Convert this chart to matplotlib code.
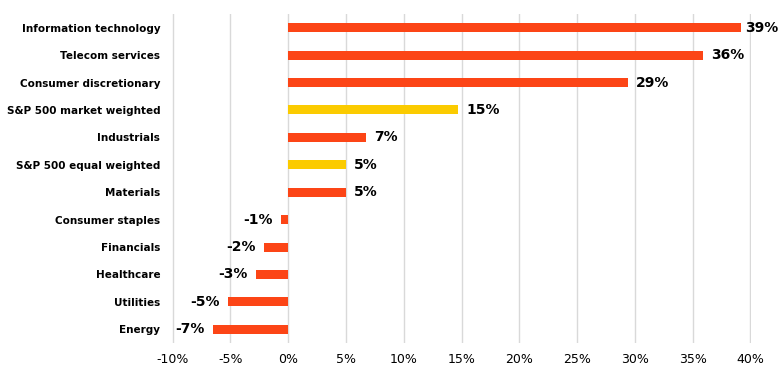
import matplotlib
matplotlib.use('Agg')
import matplotlib.pyplot as plt
from matplotlib.ticker import FuncFormatter

# sector returns, top to bottom as in the chart
sectors = ['Information technology', 'Telecom services', 'Consumer discretionary',
           'S&P 500 market weighted', 'Industrials', 'S&P 500 equal weighted',
           'Materials', 'Consumer staples', 'Financials', 'Healthcare',
           'Utilities', 'Energy']
values = [39.2, 35.9, 29.4, 14.7, 6.7, 5.0, 5.0, -0.6, -2.1, -2.8, -5.2, -6.5]
labels = ['39%', '36%', '29%', '15%', '7%', '5%', '5%', '-1%', '-2%', '-3%', '-5%', '-7%']
is_index = [False, False, False, True, False, True, False, False, False, False, False, False]

ORANGE = '#FC4516'
YELLOW = '#FBCB00'

plt.rcParams['font.family'] = ['DejaVu Sans']

fig = plt.figure(figsize=(7.8, 3.74), dpi=100)
ax = fig.add_axes([172 / 780, 31 / 374, (751 - 172) / 780, (343 - 14) / 374])

ypos = list(range(len(sectors) - 1, -1, -1))
colors = [YELLOW if f else ORANGE for f in is_index]
ax.barh(ypos, values, height=0.33, color=colors, zorder=3)

for y, v, lab in zip(ypos, values, labels):
    if v >= 0:
        # top bar label squeezed against the right edge, like the original
        off = 0.3 if v > 38 else 0.7
        ax.text(v + off, y, lab, va='center', ha='left', fontsize=10,
                fontweight='bold', color='black', zorder=4)
    else:
        ax.text(v - 0.7, y, lab, va='center', ha='right', fontsize=10,
                fontweight='bold', color='black', zorder=4)

ax.set_xlim(-10.05, 40.05)
ax.set_ylim(-0.5, len(sectors) - 0.5)
ax.set_xticks(range(-10, 41, 5))
ax.xaxis.set_major_formatter(FuncFormatter(lambda x, p: f'{int(x)}%'))
ax.set_yticks(ypos)
ax.set_yticklabels(sectors, fontsize=7.5, fontweight='bold')

ax.grid(True, axis='x', color='#d9d9d9', linewidth=1, zorder=0)
for s in ax.spines.values():
    s.set_visible(False)
ax.tick_params(axis='both', length=0)
ax.tick_params(axis='x', labelsize=9, pad=7)
ax.tick_params(axis='y', pad=8.5)

plt.savefig('out.png', dpi=100)
